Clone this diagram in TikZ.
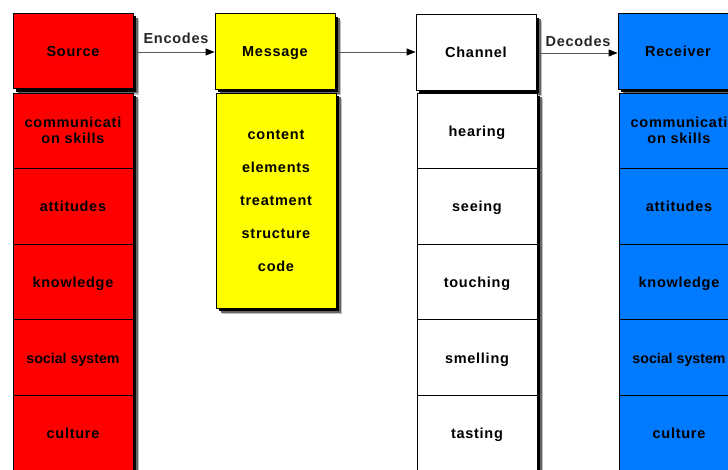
\documentclass[tikz,border=0pt]{standalone}
\usepackage{fontspec}
\newfontfamily\lbl[LetterSpace=5]{Liberation Sans}
\newfontfamily\lbltight[LetterSpace=0]{Liberation Sans}
\usetikzlibrary{arrows.meta,shadows}
\definecolor{srcred}{RGB}{255,0,0}
\definecolor{msgyel}{RGB}{255,255,0}
\definecolor{rcvblue}{RGB}{0,122,255}
\begin{document}
\begin{tikzpicture}[x=1pt,y=-1pt,
  shd/.style={drop shadow={shadow xshift=6pt,shadow yshift=-6pt,fill=black!25,opacity=1},
              drop shadow={shadow xshift=4.5pt,shadow yshift=-4.5pt,fill=black!60,opacity=1},
              drop shadow={shadow xshift=3pt,shadow yshift=-3pt,fill=black,opacity=1}},
  box/.style={shd,draw=black,line width=0.8pt,minimum width=120pt,inner sep=0pt,align=center,
              font=\lbl\bfseries\fontsize{14.5}{16}\selectfont},
  one/.style={execute at begin node={\rule[-3pt]{0pt}{17pt}}},
  multi/.style={execute at begin node={\rule{0pt}{13.5pt}}},
  tight/.style={font=\lbltight\bfseries\fontsize{14.2}{16}\selectfont},
  head/.style={box,one,minimum height=75.5pt},
  cell/.style={box,one,minimum height=75.6pt},
  cell2/.style={box,multi,minimum height=75.6pt},
  conn/.style={draw=black!65,line width=0.8pt,-{Triangle[length=9pt,width=7pt,color=black]}},
  lab/.style={font=\lbl\bfseries\fontsize{14.5}{16}\selectfont,text=black!85,inner sep=0pt}
]
\useasboundingbox (0,0) rectangle (728,470);
\clip (0,0) rectangle (728,470);
% Source
\node[head,fill=srcred] (src) at (73,51) {Source};
\node[cell2,fill=srcred] (s1) at (73,130.8) {communicati\\on skills};
\node[cell,fill=srcred] (s2) at (73,206.4) {attitudes};
\node[cell,fill=srcred] (s3) at (73,282.0) {knowledge};
\node[cell,tight,fill=srcred] (s4) at (73,357.6) {social system};
\node[cell,fill=srcred] (s5) at (73,433.2) {culture};
% Message
\node[head,fill=msgyel] (msg) at (275,51.5) {Message};
\node[box,fill=msgyel,minimum height=215pt,font=\lbl\bfseries\fontsize{14.5}{33}\selectfont,
      execute at begin node={\rule{0pt}{14.5pt}}] (mb) at (276,200.5)
  {content\\elements\\treatment\\structure\\code};
% Channel
\node[head,fill=white] (chn) at (476,52.5) {Channel};
\node[cell,fill=white] (c1) at (477,130.8) {hearing};
\node[cell,fill=white] (c2) at (477,206.4) {seeing};
\node[cell,fill=white] (c3) at (477,282.0) {touching};
\node[cell,fill=white] (c4) at (477,357.6) {smelling};
\node[cell,fill=white] (c5) at (477,433.2) {tasting};
% Receiver
\node[head,fill=rcvblue] (rcv) at (678,51.5) {Receiver};
\node[cell2,fill=rcvblue] (r1) at (679,130.8) {communicati\\on skills};
\node[cell,fill=rcvblue] (r2) at (679,206.4) {attitudes};
\node[cell,fill=rcvblue] (r3) at (679,282.0) {knowledge};
\node[cell,tight,fill=rcvblue] (r4) at (679,357.6) {social system};
\node[cell,fill=rcvblue] (r5) at (679,433.2) {culture};
% connectors
\draw[conn] ([xshift=3pt,yshift=-1pt]src.east) -- ([yshift=-1pt]src.east -| msg.west);
\draw[conn] ([xshift=3pt,yshift=-0.5pt]msg.east) -- ([yshift=-0.5pt]msg.east -| chn.west);
\draw[conn] ([xshift=3pt,yshift=-0.5pt]chn.east) -- ([yshift=-0.5pt]chn.east -| rcv.west);
\node[lab] (enc) at (176,38.5) {Encodes};
\node[lab] (dec) at (578,41) {Decodes};
\end{tikzpicture}
\end{document}
